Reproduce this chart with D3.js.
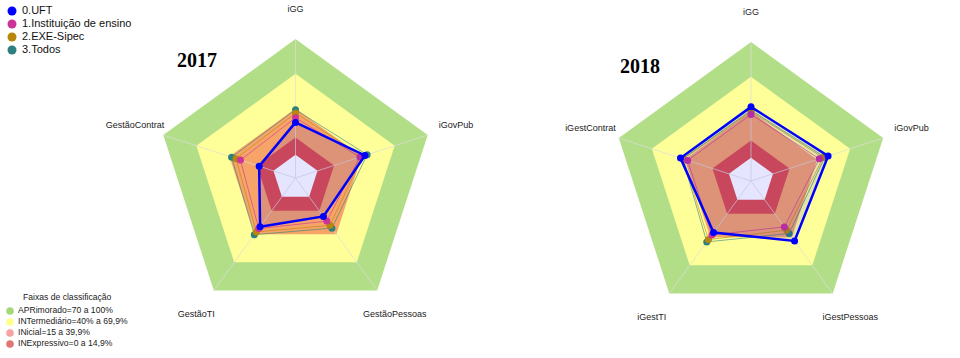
<!DOCTYPE html>
<html><head><meta charset="utf-8">
<script src="https://cdn.jsdelivr.net/npm/d3@7/dist/d3.min.js"></script>
<style>body{margin:0;background:#fff}svg{display:block}</style>
</head><body>
<svg id="c" width="960" height="358"></svg>
<script>
// ---- data ----
const axes2017 = ["iGG","iGovPub","GestãoPessoas","GestãoTI","GestãoContrat"];
const axes2018 = ["iGG","iGovPub","iGestPessoas","iGestTI","iGestContrat"];
const seriesNames = ["0.UFT","1.Instituição de ensino","2.EXE-Sipec","3.Todos"];
const seriesColors = ["#0000ff","#cc3399","#b8860b","#2e8080"];
// values per series, axis order as above (clockwise from top)
const uft2017   = [28, 43, 21, 32, 13];
const inst2017  = [32, 38.5, 26, 34, 30];
const exe2017   = [36, 41, 30.5, 37.5, 34];
const todos2017 = [39, 45, 33.5, 40.5, 38];
const uft2018   = [44, 50, 44, 35, 44];
const inst2018  = [37.5, 42, 29, 37.5, 37.5];
const exe2018   = [40, 45.5, 32.5, 42.5, 41.5];
const todos2018 = [41, 47, 36, 45, 42];
const bandNames = ["APRimorado=70 a 100%","INTermediário=40% a 69,9%","INicial=15 a 39,9%","INExpressivo=0 a 14,9%"];
const bandLimits = [100, 70, 40, 15];
const bandColors = ["#b3de88","#ffff99","#f6a468","#e0504a"];
const legendBandColors = ["#a6d879","#ffff8c","#f5a3a3","#e07575"];
const radialDomain = [-20, 100];

const svg = d3.select("#c");
const R = 139;
const rScale = d3.scaleLinear().domain(radialDomain).range([0, R]);
const ang = i => -Math.PI/2 + i*2*Math.PI/5;
const pt = (i, v) => [rScale(v)*Math.cos(ang(i)), rScale(v)*Math.sin(ang(i))];
const poly = v => d3.range(5).map(i => pt(i, v));
const line = d3.line().curve(d3.curveLinearClosed);

function radar(cx, cy, axes, data, year, yearPos) {
  const g = svg.append("g").attr("transform", `translate(${cx},${cy})`);
  bandLimits.forEach((lim, k) => {
    g.append("path").attr("d", line(poly(lim))).attr("fill", bandColors[k]);
  });
  g.append("path").attr("d", line(poly(0))).attr("fill", "#ffffff");
  // spokes
  d3.range(5).forEach(i => {
    const p = pt(i, 100);
    g.append("line").attr("x1",0).attr("y1",0).attr("x2",p[0]).attr("y2",p[1])
      .attr("stroke","#dddddd").attr("stroke-width",1).attr("opacity",0.7);
  });
  // series (draw back to front: Todos first, UFT last)
  for (let s = data.length-1; s >= 0; s--) {
    const vals = data[s];
    const pts = vals.map((v,i) => pt(i, v));
    g.append("path").attr("d", line(pts))
      .attr("fill", seriesColors[s]).attr("fill-opacity", s===0 ? 0.1 : 0.0)
      .attr("stroke", seriesColors[s]).attr("stroke-width", s===0 ? 2.5 : 1)
      .attr("stroke-opacity", s===0 ? 1 : 0.6);
    g.selectAll(null).data(pts).enter().append("circle")
      .attr("cx", d=>d[0]).attr("cy", d=>d[1]).attr("r", 3.5)
      .attr("fill", seriesColors[s]);
  }
  // axis labels
  axes.forEach((a, i) => {
    const lr = R*1.215;
    g.append("text").attr("x", lr*Math.cos(ang(i))).attr("y", lr*Math.sin(ang(i)))
      .attr("text-anchor","middle").attr("dominant-baseline","middle")
      .attr("font-family","Liberation Sans, Arial, sans-serif").attr("font-size", 9)
      .attr("fill","#222").text(a);
  });
  svg.append("text").attr("x", yearPos[0]).attr("y", yearPos[1])
    .attr("font-family","Liberation Serif, Times New Roman, serif").attr("font-weight","bold")
    .attr("font-size", 20).attr("fill","#000").text(year);
}

radar(295.5, 178, axes2017, [uft2017, inst2017, exe2017, todos2017], "2017", [177, 67]);
radar(751, 181, axes2018, [uft2018, inst2018, exe2018, todos2018], "2018", [620, 73]);

// top-left legend
const lg = svg.append("g");
seriesNames.forEach((n, k) => {
  const y = 11 + k*13;
  lg.append("circle").attr("cx", 12).attr("cy", y).attr("r", 4.5).attr("fill", seriesColors[k]);
  lg.append("text").attr("x", 22).attr("y", y).attr("dominant-baseline","middle")
    .attr("font-family","Liberation Sans, Arial, sans-serif").attr("font-size", 11)
    .attr("fill","#111").text(n);
});

// bottom-left legend
const bl = svg.append("g");
bl.append("text").attr("x", 23).attr("y", 298).attr("dominant-baseline","middle")
  .attr("font-family","Liberation Sans, Arial, sans-serif").attr("font-size", 8.6)
  .attr("fill","#222").text("Faixas de classificação");
bandNames.forEach((n, k) => {
  const y = 311 + k*11;
  bl.append("circle").attr("cx", 10).attr("cy", y).attr("r", 3.8).attr("fill", legendBandColors[k]);
  bl.append("text").attr("x", 18).attr("y", y).attr("dominant-baseline","middle")
    .attr("font-family","Liberation Sans, Arial, sans-serif").attr("font-size", 8.6)
    .attr("fill","#222").text(n);
});
</script>
</body></html>
